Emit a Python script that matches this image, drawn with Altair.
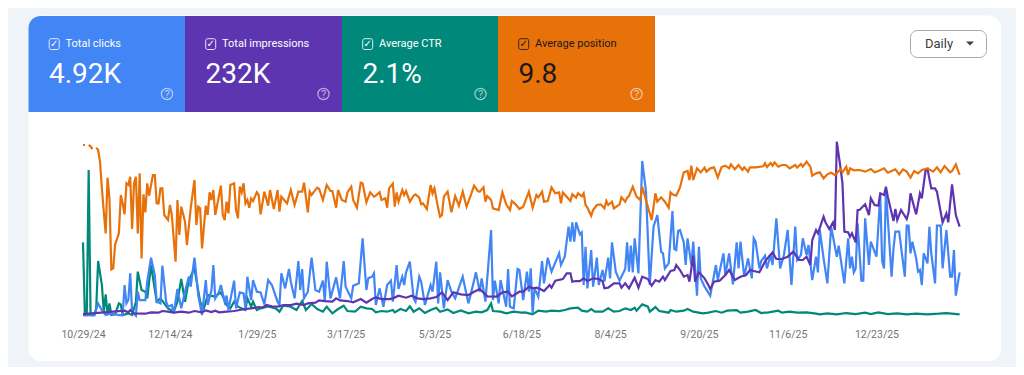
import altair as alt
import pandas as pd

START = pd.Timestamp("2024-10-29")

orange_days = [0,1,2,3,4,5,6,7,8,9,10,11,12,13,14,15,16,17,19,20,21,22,23,24,25,26,27,28,29,30,31,32,33,34,35,37,38,39,40,41,42,43,45,46,47,49,50,51,52,54,55,57,59,60,61,62,63,65,66,67,68,69,70,73,74,75,76,77,78,80,81,82,83,84,85,86,87,88,89,90,92,93,94,96,98,99,101,103,104,105,108,110,112,114,116,117,119,120,121,122,124,125,127,129,131,132,134,135,137,139,140,142,143,145,147,148,150,152,154,155,157,158,160,161,162,164,165,166,167,169,170,171,173,175,176,178,179,180,182,184,185,186,188,189,190,191,193,195,197,199,201,203,205,207,209,210,212,213,214,216,217,220,222,224,226,227,229,231,233,236,238,240,241,243,244,246,248,250,252,253,254,256,258,259,261,262,264,265,266,267,269,270,272,274,276,277,278,280,281,284,285,287,288,289,291,293,295,296,299,301,303,304,306,308,310,311,312,314,316,318,320,321,322,323,325,327,329,330,332,334,336,338,340,342,343,345,347,349,350,352,353,356,360,361,362,364,365,366,368,370,372,374,377,378,380,381,383,385,386,388,390,392,394,396,398,401,402,404,405,406,408,411,414,417,419,421,424,426,428,430,432,434,436,438,440,442,444,447,450,452,454,456,459,460,462,464]
orange_vals = [512,512,None,512,508,500,None,504,497,462,382,312,247,414,352,139,142,214,247,362,337,304,397,392,417,260,397,417,247,427,172,364,310,397,360,422,422,337,337,382,382,302,287,332,302,162,347,242,327,282,212,322,407,272,327,322,202,330,302,370,347,377,302,390,302,287,342,307,392,397,317,292,387,370,397,337,347,324,352,344,370,362,304,372,330,377,320,377,312,357,337,377,332,372,372,399,310,372,362,370,384,380,347,392,374,374,324,377,347,342,370,387,347,324,399,397,340,370,357,360,370,347,352,324,382,396,327,370,342,377,362,374,342,360,364,354,334,337,320,392,367,382,322,297,302,357,372,310,359,330,372,327,357,390,374,372,385,342,359,347,322,317,370,334,317,344,334,320,327,372,324,362,355,372,342,344,385,367,370,337,370,357,344,364,354,367,358,367,332,324,300,317,332,334,322,344,332,342,322,334,355,342,354,359,387,357,347,387,327,287,367,342,355,342,324,370,364,360,385,430,434,407,450,407,442,430,444,432,442,445,415,446,450,442,454,439,452,437,445,432,445,445,448,457,446,458,450,460,447,452,452,442,452,444,455,447,462,447,420,427,430,412,424,429,422,439,430,447,422,442,436,437,432,440,430,434,442,429,434,439,424,439,432,414,434,427,437,442,432,445,430,449,430,434,454,422]

blue_days = [0,6,8,10,12,15,19,21,22,23,24,25,26,28,29,30,33,34,36,38,39,41,42,44,45,47,48,50,52,54,56,57,59,61,63,65,66,68,69,70,72,73,75,76,77,78,80,81,83,85,86,87,89,90,92,94,96,98,100,103,104,105,107,109,110,112,114,115,116,117,119,121,123,125,127,128,129,131,134,136,138,139,142,143,146,148,150,151,153,154,155,157,159,161,163,164,166,167,169,170,171,173,175,176,178,179,181,184,185,187,188,189,191,193,195,197,201,204,206,208,210,211,213,216,217,218,220,221,224,225,226,228,230,231,233,235,236,237,238,239,241,243,244,246,248,252,253,255,257,258,259,260,261,263,264,265,266,267,269,270,272,273,275,276,278,279,280,282,284,287,288,289,290,291,292,294,296,298,300,302,304,306,307,308,310,312,313,314,315,316,318,319,320,322,323,325,326,327,329,332,335,336,339,340,342,344,346,347,348,350,352,354,355,356,358,359,361,362,364,365,367,369,371,373,375,377,378,380,381,383,384,386,388,389,390,392,394,396,399,400,403,405,406,407,408,409,410,412,413,414,416,417,420,422,423,424,425,428,429,430,432,435,436,437,438,439,441,442,443,444,445,447,448,449,451,452,454,455,457,459,460,461,462,464]
blue_vals = [2,2,37,17,2,7,2,2,92,37,47,127,12,0,72,47,47,102,174,122,42,37,150,42,27,32,7,80,22,72,117,87,174,62,2,107,32,77,152,52,72,92,42,60,17,47,105,22,70,67,22,117,47,107,72,70,34,107,92,42,32,127,82,140,102,52,164,77,140,52,72,174,77,72,105,42,162,52,115,52,164,87,52,90,97,232,77,112,117,127,32,82,27,92,105,42,152,80,117,92,130,162,52,42,117,102,32,92,72,162,37,130,22,107,72,52,117,37,82,130,72,112,42,257,47,105,37,107,27,140,27,22,140,137,47,132,72,142,7,82,57,164,97,174,132,187,152,177,267,222,280,222,280,244,250,92,207,82,197,87,174,92,137,102,174,112,220,132,105,140,220,132,210,130,232,127,464,372,92,267,302,192,187,142,157,314,200,197,254,257,220,152,232,152,222,60,207,112,87,60,152,107,187,122,187,94,220,142,222,117,172,112,232,222,142,164,180,142,182,152,292,142,182,257,92,267,167,182,232,182,212,107,177,130,257,172,97,267,177,210,97,232,142,177,130,142,277,105,105,292,152,222,177,362,164,142,377,117,202,252,252,117,270,270,187,222,172,132,137,92,187,157,267,187,97,270,270,142,257,117,117,197,60,130]

purple_days = [0,22,24,25,27,33,36,40,42,45,48,52,56,59,63,65,68,70,72,76,80,86,89,93,95,97,100,103,106,110,113,117,119,123,125,128,132,134,136,140,143,147,150,153,155,158,162,164,167,171,174,177,180,184,187,190,193,196,200,204,207,210,214,219,222,225,227,231,233,236,238,240,242,244,247,248,250,254,256,258,259,261,263,265,267,270,273,275,276,278,281,284,285,287,289,292,294,296,299,301,303,305,307,308,311,313,314,316,318,320,321,323,324,326,329,331,332,334,337,340,342,345,348,351,353,355,358,361,363,365,367,370,373,376,379,381,383,385,386,388,389,392,393,395,397,398,399,401,402,403,405,406,407,409,410,411,414,416,417,419,421,422,424,425,426,429,430,431,433,436,437,438,441,443,444,446,447,449,451,452,455,457,458,460,462,464]
purple_vals = [5,15,10,17,7,6,10,9,14,12,9,12,9,14,10,16,11,15,10,12,14,20,22,26,24,32,28,27,32,32,36,32,37,39,46,44,42,52,46,44,40,50,39,50,55,50,50,52,60,54,60,52,50,52,56,70,47,70,64,62,72,80,58,57,70,72,58,72,72,87,82,84,80,74,92,84,105,110,127,127,102,104,104,112,104,112,110,104,82,84,97,97,84,97,82,114,84,117,110,90,107,102,117,107,134,137,152,137,117,122,102,180,102,130,112,92,80,102,105,122,137,107,117,122,137,134,130,162,177,190,170,170,177,192,167,167,177,152,227,257,247,297,280,260,280,257,522,442,397,252,250,237,247,220,317,317,334,302,352,332,330,367,362,387,357,284,320,287,317,290,310,367,304,367,352,437,440,382,382,372,280,307,280,394,302,267]

green_days = [0,1,2,3,4,6,7,8,10,11,12,13,14,15,17,19,20,21,24,26,28,29,31,33,34,36,39,41,45,48,50,52,54,56,59,62,64,66,70,71,73,76,78,80,82,86,87,89,90,92,94,98,102,104,106,110,113,116,118,121,124,127,129,132,135,138,140,144,147,150,153,155,158,161,164,165,168,171,173,175,178,181,184,187,189,193,196,200,204,208,211,214,216,217,221,224,228,232,234,238,241,245,248,252,255,258,262,264,267,269,271,275,278,281,284,287,290,292,293,296,299,300,303,305,307,310,311,314,318,320,323,328,331,335,338,341,346,348,352,356,359,363,368,370,374,378,383,388,390,394,399,404,409,414,417,421,426,431,436,441,447,453,457,464]
green_vals = [220,2,2,437,2,2,22,164,92,12,64,4,37,2,4,37,34,2,7,2,42,132,77,72,52,152,42,52,22,12,42,110,42,107,142,42,22,62,57,62,70,32,22,42,27,17,52,27,42,17,22,28,22,12,30,27,17,44,17,35,20,12,27,7,20,30,14,12,27,22,20,10,14,12,17,10,20,14,28,12,22,8,17,24,12,19,8,16,7,12,10,17,37,14,12,7,12,9,10,4,15,12,15,14,17,22,24,15,12,20,12,12,22,12,14,22,17,24,15,34,27,12,26,14,12,9,17,12,15,20,12,7,9,14,9,15,17,9,12,17,8,10,15,9,12,9,10,6,4,7,4,8,5,9,5,10,5,7,4,6,4,6,8,4]

tick_dates = ["2024-10-29T00:00:00","2024-12-14T00:00:00","2025-01-29T00:00:00","2025-03-17T00:00:00","2025-05-03T00:00:00","2025-06-18T00:00:00","2025-08-04T00:00:00","2025-09-20T00:00:00","2025-11-06T00:00:00","2025-12-23T00:00:00"]

tile_labels = ["Total clicks","Total impressions","Average CTR","Average position"]
tile_values = ["4.92K","232K","2.1%","9.8"]
tile_colors = ["#4285f4","#5e35b1","#00897b","#e8710a"]
tile_inks = ["#ffffff","#ffffff","#ffffff","#1a1a1a"]
tile_edges = [20.5,177,334,490,647]

FONT = "Roboto"
one = pd.DataFrame({"a":[0]})
px = alt.value

def box(x0, x1, y0, y1, **mark):
    return alt.Chart(one).mark_rect(**mark).encode(x=px(x0), x2=px(x1), y=px(y0), y2=px(y1))

def label(txt, x, y, **mark):
    return alt.Chart(one).mark_text(text=txt, baseline="middle", **mark).encode(x=px(x), y=px(y))

layers = [box(20.5, 993, 7.5, 353, color="#ffffff", cornerRadius=12)]

for i, name in enumerate(tile_labels):
    x0 = tile_edges[i]; x1 = tile_edges[i+1]; ink = tile_inks[i]
    kw = {"cornerRadiusTopLeft": 12} if i == 0 else {}
    layers.append(box(x0, x1, 8, 104, color=tile_colors[i], **kw))
    layers.append(box(x0+20.7, x0+30.7, 30.7, 41.5, fillOpacity=0, stroke=ink, strokeWidth=1, cornerRadius=2, strokeOpacity=0.85))
    layers.append(label("\u2713", x0+25.8, 36, font="DejaVu Sans", fontSize=10, color=ink, align="center"))
    layers.append(label(name, x0+37, 35.5, font=FONT, fontSize=11, color=ink, align="left"))
    layers.append(label(tile_values[i], x0+20.5, 67, font=FONT, fontSize=28, color=ink, align="left"))
    layers.append(alt.Chart(one).mark_point(shape="circle", filled=False, size=125, color="#ffffff", strokeWidth=1.2, opacity=0.6).encode(x=px(x0+138.5), y=px(86)))
    layers.append(label("?", x0+138.5, 86.5, font=FONT, fontSize=11, color="#ffffff", opacity=0.6, align="center"))

layers.append(box(902.5, 978.5, 22.5, 49.5, fillOpacity=0, stroke="#a8a8a8", strokeWidth=1, cornerRadius=7))
layers.append(label("Daily", 917, 36, font=FONT, fontSize=13, color="#3c4043", align="left"))
layers.append(alt.Chart(one).mark_point(shape="M-1,-0.5L1,-0.5L0,0.5Z", filled=True, size=64, color="#3c4043", opacity=1).encode(x=px(962), y=px(35.5)))

x_scale = alt.Scale(domain=["2024-10-29T00:00:00","2026-02-06T00:00:00"], range=[75, 953.5])
y_scale = alt.Scale(domain=[0, 542], range=[307.7, 127])
x_axis = alt.Axis(values=tick_dates, format="%-m/%-d/%y", domain=False, ticks=False, grid=False, title=None, zindex=1,
                  labelFont=FONT, labelFontSize=10.5, labelColor="#70757a", labelOverlap=False,
                  labelPadding=0, offset=-38, labelBaseline="top", labelAlign="center")

def series(days, vals, color):
    df = pd.DataFrame({"date":[START + pd.Timedelta(days=d) for d in days], "v":vals})
    df["date"] = df["date"].dt.strftime("%Y-%m-%dT%H:%M:%S")
    return alt.Chart(df).mark_line(color=color, strokeWidth=2.2, interpolate="linear", clip=False).encode(
        x=alt.X("date:T", scale=x_scale, axis=x_axis), y=alt.Y("v:Q", scale=y_scale, axis=None), order=alt.Order("date:T"))

layers += [
    series(green_days, green_vals, "#00897b"),
    series(blue_days, blue_vals, "#4285f4"),
    series(purple_days, purple_vals, "#5e35b1"),
    series(orange_days, orange_vals, "#e8710a"),
]

chart = alt.layer(*layers).properties(
    width=1008, height=359, padding=0, autosize="none", background="#f0f4f9"
).configure_view(strokeWidth=0)

chart.save("out.html", embed_options={"renderer": "svg", "actions": False})
